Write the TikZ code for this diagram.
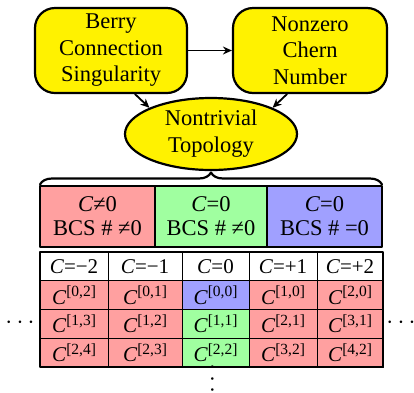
\documentclass[tikz,border=0pt]{standalone}
\usepackage{fontspec}
\setmainfont{Liberation Serif}
\usetikzlibrary{shapes.geometric,arrows.meta,decorations.pathreplacing}
\definecolor{bcspink}{RGB}{255,160,160}
\definecolor{bcsgreen}{RGB}{160,255,160}
\definecolor{bcsblue}{RGB}{160,160,255}
\newcommand\cnum[2]{\textit{C}\raisebox{7.5pt}{\fontsize{15.5}{16}\selectfont[#1,#2]}}
\tikzset{
  idea/.style={draw,line width=2.2pt,fill=yellow,rounded corners=20pt,align=center,
    minimum width=152pt,minimum height=85pt,inner sep=0pt,
    font=\fontsize{22.5}{26.5}\selectfont},
  case/.style={draw,line width=2.8pt,align=center,minimum height=61pt,inner sep=0pt,
    outer sep=0pt,font=\fontsize{22.5}{24}\selectfont},
  cell/.style={draw,line width=0.9pt,minimum height=28.75pt,inner sep=0pt,outer sep=0pt,
    font=\fontsize{21}{24}\selectfont},
  more/.style={inner sep=0pt,font=\fontsize{24}{24}\selectfont}
}

\begin{document}
\begin{tikzpicture}[line cap=round,line join=round,>={Stealth[length=9pt,width=8pt]},x=1pt,y=-1pt]
	\useasboundingbox (0,0) rectangle (414,392);
	% implications
	\node[idea] (berry) at (111,50.5) {Berry\\Connection\\Singularity};
	\node[idea,minimum width=154pt] (chern) at (310,50.5) {Nonzero\\Chern\\Number};
	\node[ellipse,draw,line width=2.2pt,fill=yellow,minimum width=172pt,minimum height=72pt,
		inner sep=0pt,align=center,font=\fontsize{22.5}{27}\selectfont] (topo) at (211,134) {Nontrivial\\Topology};
	\draw[->,line width=1.8pt] (berry.east) -- (chern.west);
	\draw[->,line width=1.8pt] ([xshift=24pt]berry.south) -- (topo.north west);
	\draw[->,line width=1.8pt] ([xshift=-23pt]chern.south) -- (topo.north east);
	% the three cases
	\node[case,fill=bcspink,minimum width=115pt] (casea) at (97.5,216.5) {\textit{C}≠0\\BCS \# ≠0};
	\node[case,fill=bcsgreen,minimum width=112pt] (caseb) at (211,216.5) {\textit{C}=0\\BCS \# ≠0};
	\node[case,fill=bcsblue,minimum width=115pt] (casec) at (324.5,216.5) {\textit{C}=0\\BCS \# =0};
	\draw[line width=2.2pt,decorate,decoration={brace,amplitude=12pt,raise=1.5pt}]
		(casea.north west) -- (casec.north east);
	% table of Chern numbers
	\foreach \xa/\xb/\k/\lab [count=\c] in {40/108/-2/{−2},108/182/-1/{−1},182/249/0/0,249/317/1/{+1},317/383/2/{+2}}{
		\node[cell,fill=white,minimum width={(\xb-\xa)*1pt}] (h\c) at ({(\xa+\xb)/2},266.4) {\textit{C}=\lab};
		\foreach \r/\yy in {0/295.1,1/323.9,2/352.6}{
			\pgfmathtruncatemacro\m{\k<0 ? \r : \r+\k}
			\pgfmathtruncatemacro\n{\k<0 ? \r-\k : \r}
			\ifnum\k=0 \ifnum\r=0 \def\fc{bcsblue}\else\def\fc{bcsgreen}\fi \else\def\fc{bcspink}\fi
			\node[cell,fill=\fc,minimum width={(\xb-\xa)*1pt}] (c\r-\c) at ({(\xa+\xb)/2},\yy) {\cnum{\m}{\n}};
		}
	}
	\draw[line width=2.8pt] (h1.north west) rectangle (c2-5.south east);
	\node[more] (ldots) at (20,323) {$\cdots$};
	\node[more] (rdots) at (401,323) {$\cdots$};
	\node[more,rotate=90,font=\fontsize{23}{23}\selectfont] (vdots) at (213,378.5) {\makebox[19pt]{$\cdots$}};
\end{tikzpicture}
\end{document}
